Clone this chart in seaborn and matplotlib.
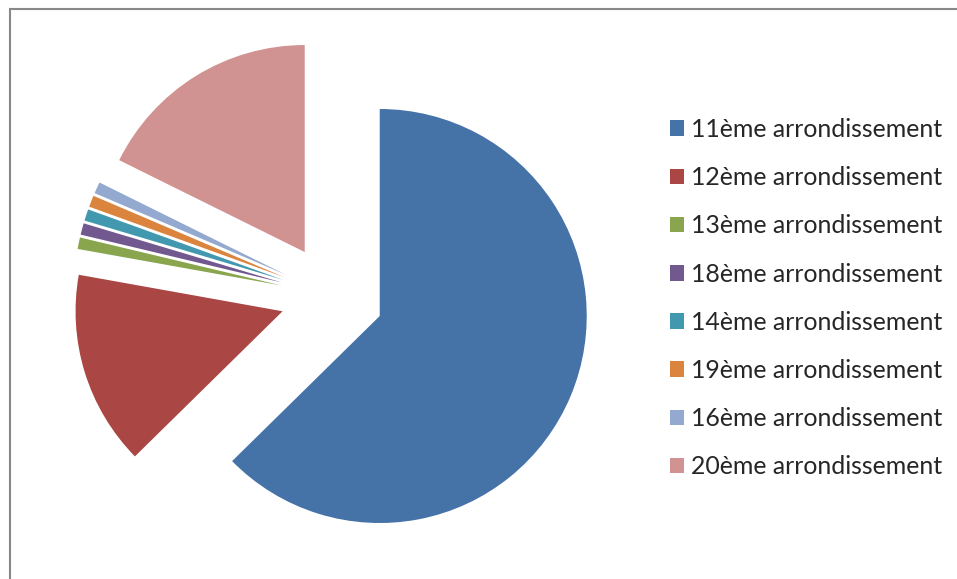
import numpy as np
import seaborn as sns
import matplotlib.pyplot as plt
from matplotlib.patches import Rectangle

labels = ["11ème arrondissement", "12ème arrondissement", "13ème arrondissement",
          "18ème arrondissement", "14ème arrondissement", "19ème arrondissement",
          "16ème arrondissement", "20ème arrondissement"]
shares = [62.7, 15.2, 0.9, 0.9, 0.9, 0.9, 0.9, 17.7]
colors = ["#4572A7", "#AA4643", "#89A54E", "#71588F",
          "#4198AF", "#DB843D", "#93A9CF", "#D19392"]

sns.set_theme(style="white")
plt.rcParams['font.family'] = ['Lato', 'DejaVu Sans']

W, H = 957, 579
fig = plt.figure(figsize=(W / 100, H / 100), dpi=100)

# pie centre ~ (332, 296) px from top-left, radius ~207 px
R = 207
lim = 1.45
size = 2 * lim * R
cx, cy = 332, H - 296
ax = fig.add_axes([(cx - size / 2) / W, (cy - size / 2) / H, size / W, size / H])

wedges, _ = ax.pie(shares, colors=sns.color_palette(colors), startangle=90,
                   counterclock=False, explode=[0.25] * len(shares),
                   wedgeprops=dict(linewidth=0))
ax.set_xlim(-lim, lim)
ax.set_ylim(-lim, lim)
ax.set_aspect("equal")
ax.axis("off")

fig.legend(wedges, labels, loc="upper left", bbox_to_anchor=(660 / W, 1 - 108 / H),
           frameon=False, fontsize=17.9, handlelength=0.58, handleheight=0.58,
           handletextpad=0.27, labelspacing=1.014, borderaxespad=0)

# chart-area border (cropped on right and bottom)
fig.add_artist(Rectangle((9.5 / W, -0.05), 1.0, 1.05 - 9 / H, transform=fig.transFigure,
                         fill=False, edgecolor="#888888", linewidth=1.5))

fig.savefig("out.png", dpi=100)
